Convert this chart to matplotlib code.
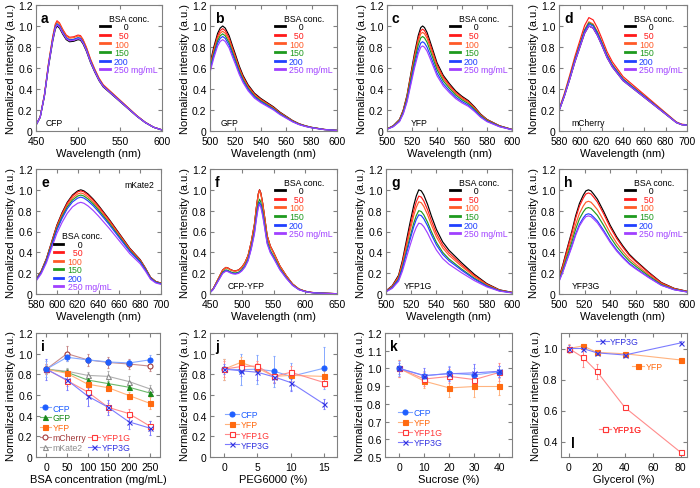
import matplotlib

matplotlib.use("Agg")
import matplotlib.pyplot as plt
from matplotlib.lines import Line2D
from matplotlib.ticker import FuncFormatter
import numpy as np

plt.rcParams.update(
    {
        "font.family": ["Liberation Sans", "DejaVu Sans"],
        "font.size": 8,
        "axes.linewidth": 0.8,
        "axes.edgecolor": "#808080",
        "xtick.direction": "in",
        "ytick.direction": "in",
        "xtick.top": True,
        "ytick.right": True,
        "xtick.color": "#808080",
        "ytick.color": "#808080",
        "xtick.labelcolor": "black",
        "ytick.labelcolor": "black",
        "xtick.labelsize": 7.5,
        "ytick.labelsize": 7.5,
        "xtick.major.size": 3,
        "ytick.major.size": 3,
        "xtick.major.pad": 3.5,
        "ytick.major.pad": 2.5,
        "axes.labelpad": 1.5,
    }
)

# ---- spectra (BSA series) ----
conc_labels = ["\u2007\u20070", "\u200750", "100", "150", "200", "250 mg/mL"]
spec_colors = ["black", "#ff1a1a", "#ff5a28", "#1e9a1e", "#2040ff", "#a040ff"]

wl_a = [450, 455, 460, 465, 470, 473, 475, 478, 482, 486, 490, 495, 500, 503, 506, 510,
        515, 520, 525, 530, 540, 550, 560, 570, 580, 590, 600]
sp_a = [0.055, 0.13, 0.33, 0.62, 0.86, 0.97, 1.0, 0.98, 0.92, 0.87, 0.85, 0.855, 0.87, 0.865,
        0.83, 0.76, 0.65, 0.56, 0.48, 0.42, 0.35, 0.28, 0.21, 0.14, 0.08, 0.035, 0.01]
fac_a = [1.0, 1.05, 1.04, 1.02, 1.02, 1.01]

wl_b = [500, 503, 506, 508, 510, 512, 515, 518, 520, 523, 526, 530, 535, 540, 545, 550,
        555, 560, 565, 570, 575, 580, 590, 600]
sp_b = [0.64, 0.80, 0.93, 0.98, 1.0, 0.98, 0.91, 0.80, 0.73, 0.62, 0.53, 0.44, 0.36, 0.31,
        0.27, 0.23, 0.18, 0.14, 0.10, 0.07, 0.05, 0.035, 0.015, 0.006]
fac_b = [1.0, 0.975, 0.95, 0.925, 0.90, 0.87]

wl_c = [500, 505, 510, 513, 516, 519, 522, 525, 527, 528.5, 530, 532, 534, 537, 540, 545,
        550, 555, 560, 565, 570, 575, 580, 590, 600]
sp_c = [0.02, 0.05, 0.11, 0.20, 0.34, 0.54, 0.74, 0.91, 0.985, 1.0, 0.985, 0.94, 0.87, 0.76,
        0.65, 0.53, 0.45, 0.38, 0.33, 0.29, 0.23, 0.16, 0.11, 0.05, 0.015]
fac_c = [1.0, 0.97, 0.94, 0.90, 0.85, 0.81]

wl_d = [580, 585, 590, 595, 600, 604, 608, 612, 616, 620, 625, 630, 640, 650, 660, 670,
        680, 685, 690, 695, 700]
sp_d = [0.19, 0.33, 0.49, 0.66, 0.81, 0.93, 1.0, 0.98, 0.91, 0.82, 0.70, 0.61, 0.48, 0.40,
        0.32, 0.24, 0.16, 0.12, 0.08, 0.06, 0.055]
fac_d = [1.0, 1.08, 1.04, 1.03, 1.02, 1.0]

wl_e = [580, 585, 590, 595, 600, 605, 610, 615, 620, 623, 626, 630, 635, 640, 650, 660,
        670, 680, 685, 690, 695, 700]
sp_e = [0.14, 0.22, 0.34, 0.50, 0.66, 0.78, 0.88, 0.95, 0.99, 1.0, 0.99, 0.96, 0.91, 0.85,
        0.72, 0.58, 0.44, 0.33, 0.25, 0.16, 0.12, 0.105]
fac_e = [1.0, 0.99, 0.97, 0.95, 0.93, 0.88]

wl_f = [450, 455, 460, 465, 470, 475, 478, 482, 486, 490, 495, 500, 505, 510, 515, 520,
        523, 526, 528, 530, 533, 536, 540, 545, 550, 560, 570, 580, 590, 600, 610, 620, 650]
sp_f = [0.016, 0.05, 0.11, 0.17, 0.23, 0.255, 0.25, 0.235, 0.225, 0.222, 0.23, 0.256, 0.30,
        0.37, 0.50, 0.67, 0.83, 0.96, 1.0, 0.97, 0.87, 0.74, 0.56, 0.46, 0.40, 0.27, 0.176,
        0.096, 0.048, 0.026, 0.015, 0.01, 0.003]
fac_f = [1.0, 1.0, 0.99, 0.91, 0.88, 0.86]

wl_g = [500, 505, 510, 513, 516, 519, 522, 524, 526, 528, 530, 533, 536, 540, 545, 550,
        555, 560, 570, 580, 590, 600]
sp_g = [0.03, 0.08, 0.18, 0.32, 0.50, 0.68, 0.85, 0.94, 1.0, 0.99, 0.95, 0.86, 0.75, 0.62,
        0.50, 0.42, 0.36, 0.30, 0.19, 0.10, 0.04, 0.016]
fac_g = [1.0, 0.94, 0.885, 0.80, 0.76, 0.68]

wl_h = [500, 503, 506, 510, 513, 516, 519, 521, 523, 525, 527, 530, 535, 540, 545, 550,
        555, 560, 570, 580, 590, 600]
sp_h = [0.16, 0.28, 0.42, 0.60, 0.75, 0.87, 0.95, 0.99, 1.0, 0.99, 0.96, 0.91, 0.79, 0.66,
        0.55, 0.46, 0.38, 0.32, 0.21, 0.11, 0.054, 0.026]
fac_h = [1.0, 0.97, 0.89, 0.83, 0.77, 0.75]

# ---- crowding / osmolyte series ----
bsa = [0, 50, 100, 150, 200, 250]
i_cfp = [0.85, 0.965, 0.94, 0.92, 0.91, 0.94]
i_cfp_err = [0.08, 0.04, 0.03, 0.03, 0.03, 0.05]
i_gfp = [0.85, 0.82, 0.745, 0.71, 0.675, 0.62]
i_gfp_err = [0.03, 0.03, 0.03, 0.03, 0.03, 0.03]
i_yfp = [0.85, 0.81, 0.705, 0.67, 0.595, 0.52]
i_yfp_err = [0.03, 0.03, 0.03, 0.03, 0.03, 0.06]
i_mcherry = [0.85, 1.0, 0.94, 0.915, 0.90, 0.88]
i_mcherry_err = [0.05, 0.07, 0.06, 0.05, 0.05, 0.05]
i_mkate2 = [0.85, 0.83, 0.79, 0.78, 0.73, 0.66]
i_mkate2_err = [0.04, 0.03, 0.03, 0.05, 0.05, 0.04]
i_yfp1g = [0.85, 0.74, 0.63, 0.48, 0.42, 0.30]
i_yfp1g_err = [0.05, 0.05, 0.04, 0.04, 0.04, 0.05]
i_yfp3g = [0.85, 0.745, 0.59, 0.48, 0.34, 0.28]
i_yfp3g_err = [0.10, 0.10, 0.10, 0.07, 0.07, 0.07]

peg = [0, 2.5, 5, 7.5, 10, 15]
j_cfp = [0.85, 0.845, 0.85, 0.83, 0.78, 0.86]
j_cfp_err = [0.10, 0.15, 0.14, 0.15, 0.13, 0.20]
j_yfp = [0.85, 0.915, 0.86, 0.78, 0.79, 0.78]
j_yfp_err = [0.10, 0.05, 0.05, 0.06, 0.05, 0.05]
j_yfp1g = [0.85, 0.875, 0.88, 0.78, 0.82, 0.72]
j_yfp1g_err = [0.08, 0.05, 0.05, 0.05, 0.06, 0.04]
j_yfp3g = [0.85, 0.835, 0.82, 0.775, 0.72, 0.51]
j_yfp3g_err = [0.05, 0.05, 0.07, 0.06, 0.08, 0.05]

sucrose = [0, 10, 20, 30, 40]
k_cfp = [1.0, 0.958, 0.973, 0.963, 0.982]
k_cfp_err = [0.04, 0.03, 0.04, 0.04, 0.03]
k_yfp = [1.0, 0.928, 0.89, 0.898, 0.898]
k_yfp_err = [0.05, 0.04, 0.05, 0.06, 0.05]
k_yfp1g = [1.0, 0.94, 0.955, 0.937, 0.978]
k_yfp1g_err = [0.05, 0.04, 0.04, 0.03, 0.05]
k_yfp3g = [1.0, 0.96, 0.97, 0.975, 0.984]
k_yfp3g_err = [0.03, 0.04, 0.04, 0.05, 0.03]

glycerol = [0, 10, 20, 40, 80]
l_yfp3g = [1.0, 1.0, 0.972, 0.958, 1.036]
l_yfp3g_err = [0.02, 0.01, 0.01, 0.01, 0.01]
l_yfp = [1.0, 1.017, 0.975, 0.966, 0.926]
l_yfp_err = [0.03, 0.01, 0.01, 0.01, 0.01]
l_yfp1g = [1.0, 0.943, 0.852, 0.62, 0.33]
l_yfp1g_err = [0.02, 0.06, 0.05, 0.01, 0.01]

STYLES = {
    "CFP": dict(marker="o", c="#1f5fff", line="#86a9ff", fill=True),
    "GFP": dict(marker="^", c="#1a8a1a", line="#6cb86c", fill=True),
    "YFP": dict(marker="s", c="#ff6a10", line="#ffb37f", fill=True),
    "mCherry": dict(marker="o", c="#a33a3a", line="#c88a8a", fill=False),
    "mKate2": dict(marker="^", c="#8c8c8c", line="#b0b0b0", fill=False),
    "YFP1G": dict(marker="s", c="#ff3838", line="#ff8c8c", fill=False),
    "YFP3G": dict(marker="x", c="#3434e0", line="#7c7cff", fill=True),
}

W, H = 700, 489
fig = plt.figure(figsize=(W / 100, H / 100), dpi=100, facecolor="white")


def add_ax(x0, y0, x1, y1):
    return fig.add_axes([x0 / W, 1 - y1 / H, (x1 - x0) / W, (y1 - y0) / H])


def yfmt(v, pos):
    return "0" if abs(v) < 1e-9 else f"{v:.1f}"


def style_ax(ax, letter, lx=0.04, ly=0.95):
    ax.yaxis.set_major_formatter(FuncFormatter(yfmt))
    ax.set_ylabel("Normalized intensity (a.u.)")
    ax.text(lx, ly, letter, transform=ax.transAxes, fontsize=10, fontweight="bold",
            va="top", ha="left")


def spectrum_panel(box, wl, sp, fac, xlim, xticks, letter, name, name_xy, name_ha,
                   leg_loc, leg_anchor):
    ax = add_ax(*box)
    for f, c in zip(fac, spec_colors):
        ax.plot(wl, np.array(sp) * f, color=c, lw=0.85)
    ax.set_xlim(*xlim)
    ax.set_xticks(xticks)
    ax.set_ylim(0, 1.2)
    ax.set_yticks(np.arange(0, 1.21, 0.2))
    ax.set_xlabel("Wavelength (nm)")
    style_ax(ax, letter)
    ax.text(*name_xy, name, transform=ax.transAxes, fontsize=6.2, ha=name_ha, va="center")
    handles = [Line2D([], [], color=c, lw=2) for c in spec_colors]
    ax.legend(handles, conc_labels, title="BSA conc.", title_fontsize=6.3, fontsize=6.3,
              labelcolor=spec_colors, frameon=False, loc=leg_loc, bbox_to_anchor=leg_anchor,
              handlelength=1.1, handletextpad=0.5, labelspacing=-0.05, borderpad=0,
              borderaxespad=0)
    return ax


def series(ax, x, y, e, key):
    st = STYLES[key]
    ax.errorbar(x, y, yerr=e, color=st["line"], ecolor=st["line"], elinewidth=0.7, lw=0.8,
                marker=st["marker"], ms=3.6, mfc=st["c"] if st["fill"] else "white",
                mec=st["c"], mew=0.8, capsize=1, capthick=0.6)


def proxy(key):
    st = STYLES[key]
    return Line2D([], [], color=st["line"], lw=0.8, marker=st["marker"], ms=3.6,
                  mfc=st["c"] if st["fill"] else "white", mec=st["c"], mew=0.8)


# ---- top two rows ----
spectrum_panel((36, 6, 162, 132), wl_a, sp_a, fac_a, (450, 600), [450, 500, 550, 600], "a",
               "CFP", (0.08, 0.07), "left", "upper right", (0.965, 0.93))
spectrum_panel((210, 6, 337, 132), wl_b, sp_b, fac_b, (500, 600), range(500, 601, 20), "b",
               "GFP", (0.08, 0.07), "left", "upper right", (0.965, 0.93))
spectrum_panel((387, 6, 512, 132), wl_c, sp_c, fac_c, (500, 600), range(500, 601, 20), "c",
               "YFP", (0.19, 0.07), "left", "upper right", (0.965, 0.93))
spectrum_panel((559, 6, 687, 132), wl_d, sp_d, fac_d, (580, 700), range(580, 701, 20), "d",
               "mCherry", (0.1, 0.07), "left", "upper right", (0.965, 0.93))
spectrum_panel((36, 170, 161, 295), wl_e, sp_e, fac_e, (580, 700), range(580, 701, 20), "e",
               "mKate2", (0.95, 0.88), "right", "lower left", (0.14, 0.02))
spectrum_panel((210, 170, 337, 295), wl_f, sp_f, fac_f, (450, 650), range(450, 651, 50), "f",
               "CFP-YFP", (0.14, 0.07), "left", "upper right", (0.965, 0.93))
spectrum_panel((386, 170, 512, 295), wl_g, sp_g, fac_g, (500, 600), range(500, 601, 20), "g",
               "YFP1G", (0.14, 0.07), "left", "upper right", (0.965, 0.93))
spectrum_panel((559, 170, 687, 295), wl_h, sp_h, fac_h, (500, 600), range(500, 601, 20), "h",
               "YFP3G", (0.1, 0.07), "left", "upper right", (0.965, 0.93))

# ---- i: BSA ----
ax = add_ax(36, 334, 160, 458)
series(ax, bsa, i_mkate2, i_mkate2_err, "mKate2")
series(ax, bsa, i_mcherry, i_mcherry_err, "mCherry")
series(ax, bsa, i_gfp, i_gfp_err, "GFP")
series(ax, bsa, i_yfp, i_yfp_err, "YFP")
series(ax, bsa, i_yfp1g, i_yfp1g_err, "YFP1G")
series(ax, bsa, i_yfp3g, i_yfp3g_err, "YFP3G")
series(ax, bsa, i_cfp, i_cfp_err, "CFP")
ax.set_xlim(-25, 275)
ax.set_xticks(bsa)
ax.set_ylim(0, 1.2)
ax.set_yticks(np.arange(0, 1.21, 0.2))
ax.set_xlabel("BSA concentration (mg/mL)")
style_ax(ax, "i")
blank = Line2D([], [], alpha=0)
keys_i = ["CFP", "GFP", "YFP", "mCherry", "mKate2", None, None, None, "YFP1G", "YFP3G"]
ax.legend([proxy(k) if k else blank for k in keys_i], [k if k else "" for k in keys_i],
          labelcolor=[STYLES[k]["c"] if k else "white" for k in keys_i], ncol=2, fontsize=6.3,
          frameon=False, loc="lower left", bbox_to_anchor=(0.03, 0.04), handlelength=1.3,
          handletextpad=0.2, labelspacing=0.1, columnspacing=0.2, borderpad=0,
          borderaxespad=0)

# ---- j: PEG6000 ----
ax = add_ax(210, 334, 337, 458)
series(ax, peg, j_cfp, j_cfp_err, "CFP")
series(ax, peg, j_yfp, j_yfp_err, "YFP")
series(ax, peg, j_yfp1g, j_yfp1g_err, "YFP1G")
series(ax, peg, j_yfp3g, j_yfp3g_err, "YFP3G")
ax.set_xlim(-2.1, 16.9)
ax.set_xticks([0, 5, 10, 15])
ax.set_ylim(0, 1.2)
ax.set_yticks(np.arange(0, 1.21, 0.2))
ax.set_xlabel("PEG6000 (%)")
style_ax(ax, "j")
keys = ["CFP", "YFP", "YFP1G", "YFP3G"]
ax.legend([proxy(k) for k in keys], keys, labelcolor=[STYLES[k]["c"] for k in keys],
          fontsize=6.3, frameon=False, loc="lower left", bbox_to_anchor=(0.12, 0.06),
          handlelength=1.6, handletextpad=0.2, labelspacing=0.12, borderpad=0,
          borderaxespad=0)

# ---- k: sucrose ----
ax = add_ax(385, 334, 512, 458)
series(ax, sucrose, k_yfp, k_yfp_err, "YFP")
series(ax, sucrose, k_yfp1g, k_yfp1g_err, "YFP1G")
series(ax, sucrose, k_cfp, k_cfp_err, "CFP")
series(ax, sucrose, k_yfp3g, k_yfp3g_err, "YFP3G")
ax.set_xlim(-5.7, 45)
ax.set_xticks(sucrose)
ax.set_ylim(0.5, 1.2)
ax.set_yticks(np.arange(0.5, 1.21, 0.1))
ax.set_xlabel("Sucrose (%)")
style_ax(ax, "k")
ax.legend([proxy(k) for k in keys], keys, labelcolor=[STYLES[k]["c"] for k in keys],
          fontsize=6.3, frameon=False, loc="lower left", bbox_to_anchor=(0.1, 0.08),
          handlelength=1.6, handletextpad=0.2, labelspacing=0.12, borderpad=0,
          borderaxespad=0)

# ---- l: glycerol ----
ax = add_ax(561, 334, 687, 458)
series(ax, glycerol, l_yfp, l_yfp_err, "YFP")
series(ax, glycerol, l_yfp1g, l_yfp1g_err, "YFP1G")
series(ax, glycerol, l_yfp3g, l_yfp3g_err, "YFP3G")
ax.set_xlim(-5.7, 84.5)
ax.set_xticks([0, 20, 40, 60, 80])
ax.set_ylim(0.3, 1.1)
ax.set_yticks([0.4, 0.6, 0.8, 1.0])
ax.set_xlabel("Glycerol (%)")
style_ax(ax, "l", lx=0.08, ly=0.17)
for key, anchor in [("YFP3G", (0.28, 0.93)), ("YFP", (0.56, 0.73)), ("YFP1G", (0.3, 0.22))]:
    lg = ax.legend([proxy(key)], [key], labelcolor=[STYLES[key]["c"]], fontsize=6.3,
                   frameon=False, loc="center left", bbox_to_anchor=anchor, handlelength=1.4,
                   handletextpad=0.2, borderpad=0, borderaxespad=0)
    ax.add_artist(lg)

fig.savefig("out.png", dpi=100, facecolor="white")
